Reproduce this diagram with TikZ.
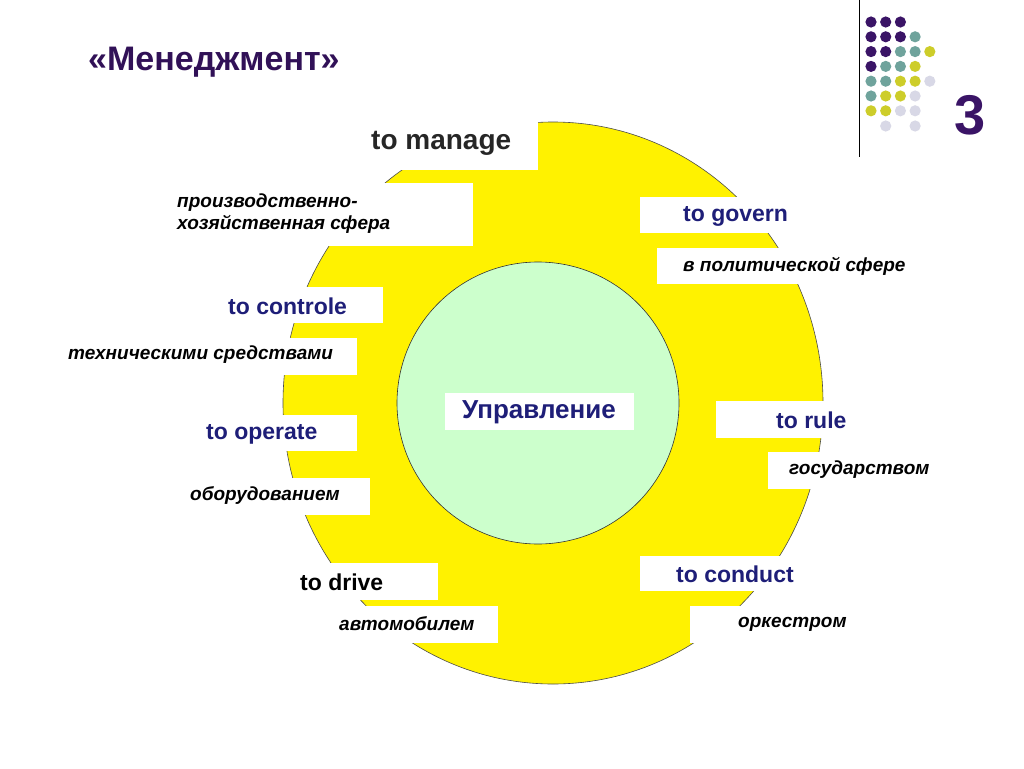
\documentclass[tikz,border=0pt]{standalone}
\usepackage{fontspec}
\setmainfont{Liberation Sans}
\definecolor{navy}{HTML}{1E1E78}
\definecolor{dpurple}{HTML}{3A1466}
\definecolor{dteal}{HTML}{6FA39C}
\definecolor{dyel}{HTML}{CDCD2A}
\definecolor{dlight}{HTML}{D8D8E6}
\begin{document}
\begin{tikzpicture}[x=1pt,y=-1pt,
  en/.style={anchor=west,font=\fontsize{23}{25}\selectfont\bfseries,text=navy,inner sep=0},
  ru/.style={anchor=west,font=\fontsize{19}{22}\selectfont\bfseries\itshape,text=black,inner sep=0,align=left},
  wb/.style={fill=white,draw=none}]
\useasboundingbox (0,0) rectangle (1024,768);
\fill[white] (0,0) rectangle (1024,768);
\fill[yellow,draw=black!70,line width=0.6pt] (553,403) ellipse [x radius=270,y radius=281];
% white boxes
\fill[wb] (360,122) rectangle (538,170);
\fill[wb] (170,183) rectangle (473,246);
\fill[wb] (640,197) rectangle (798,233);
\fill[wb] (657,248) rectangle (920,284);
\fill[wb] (222,287) rectangle (383,323);
\fill[wb] (62,338) rectangle (357,375);
\fill[wb] (716,401) rectangle (860,438);
\fill[wb] (768,452) rectangle (940,489);
\fill[wb] (200,415) rectangle (357,451);
\fill[wb] (185,478) rectangle (370,515);
\fill[wb] (640,556) rectangle (810,591);
\fill[wb] (288,563) rectangle (438,600);
\fill[wb] (333,606) rectangle (498,643);
\fill[wb] (690,606) rectangle (865,643);
\draw[fill={rgb,255:red,204;green,255;blue,204},draw=black!80,line width=0.6pt] (538,403) circle (141);
\fill[wb] (445,393) rectangle (634,430);
% texts
\node[anchor=west,inner sep=0,font=\fontsize{34}{36}\selectfont\bfseries,text=dpurple!85!black] (title) at (88,62) {«Менеджмент»};
\node[en,font=\fontsize{28}{30}\selectfont\bfseries,text=black!85] (manage) at (371,143) {to manage};
\node[ru] (proizv) at (177,214) {производственно-\\хозяйственная сфера};
\node[en] (govern) at (683,216) {to govern};
\node[ru] (polit) at (683,266) {в политической сфере};
\node[en] (controle) at (228,306) {to controle};
\node[ru] (tech) at (68,355) {техническими средствами};
\node[inner sep=0,font=\fontsize{26}{28}\selectfont\bfseries,text=navy] (upr) at (539,412) {Управление};
\node[en] (rule) at (776,420) {to rule};
\node[ru] (gos) at (789,470) {государством};
\node[en] (operate) at (206,434) {to operate};
\node[ru] (obor) at (190,495) {оборудованием};
\node[en] (conduct) at (676,574) {to conduct};
\node[en,text=black] (drive) at (300,582) {to drive};
\node[ru] (avto) at (339,624) {автомобилем};
\node[ru] (orkestr) at (738,624) {оркестром};
% decoration
\draw[black,line width=1pt] (859,0) -- (859,157);
\foreach \r/\row in {0/{dpurple,dpurple,dpurple},1/{dpurple,dpurple,dpurple,dteal},2/{dpurple,dpurple,dteal,dteal,dyel},3/{dpurple,dteal,dteal,dyel},4/{dteal,dteal,dyel,dyel,dlight},5/{dteal,dyel,dyel,dlight},6/{dyel,dyel,dlight,dlight}} {
  \foreach \c [count=\i from 0] in \row {
    \fill[\c] (871+14.7*\i,22+14.8*\r) circle (5.6);
  }
}
\fill[dlight] (885.7,126) circle (5.6);
\fill[dlight] (915.1,126) circle (5.6);
\node[inner sep=0,font=\fontsize{56}{60}\selectfont\bfseries,text=dpurple] (three) at (970,115) {3};
\end{tikzpicture}
\end{document}
